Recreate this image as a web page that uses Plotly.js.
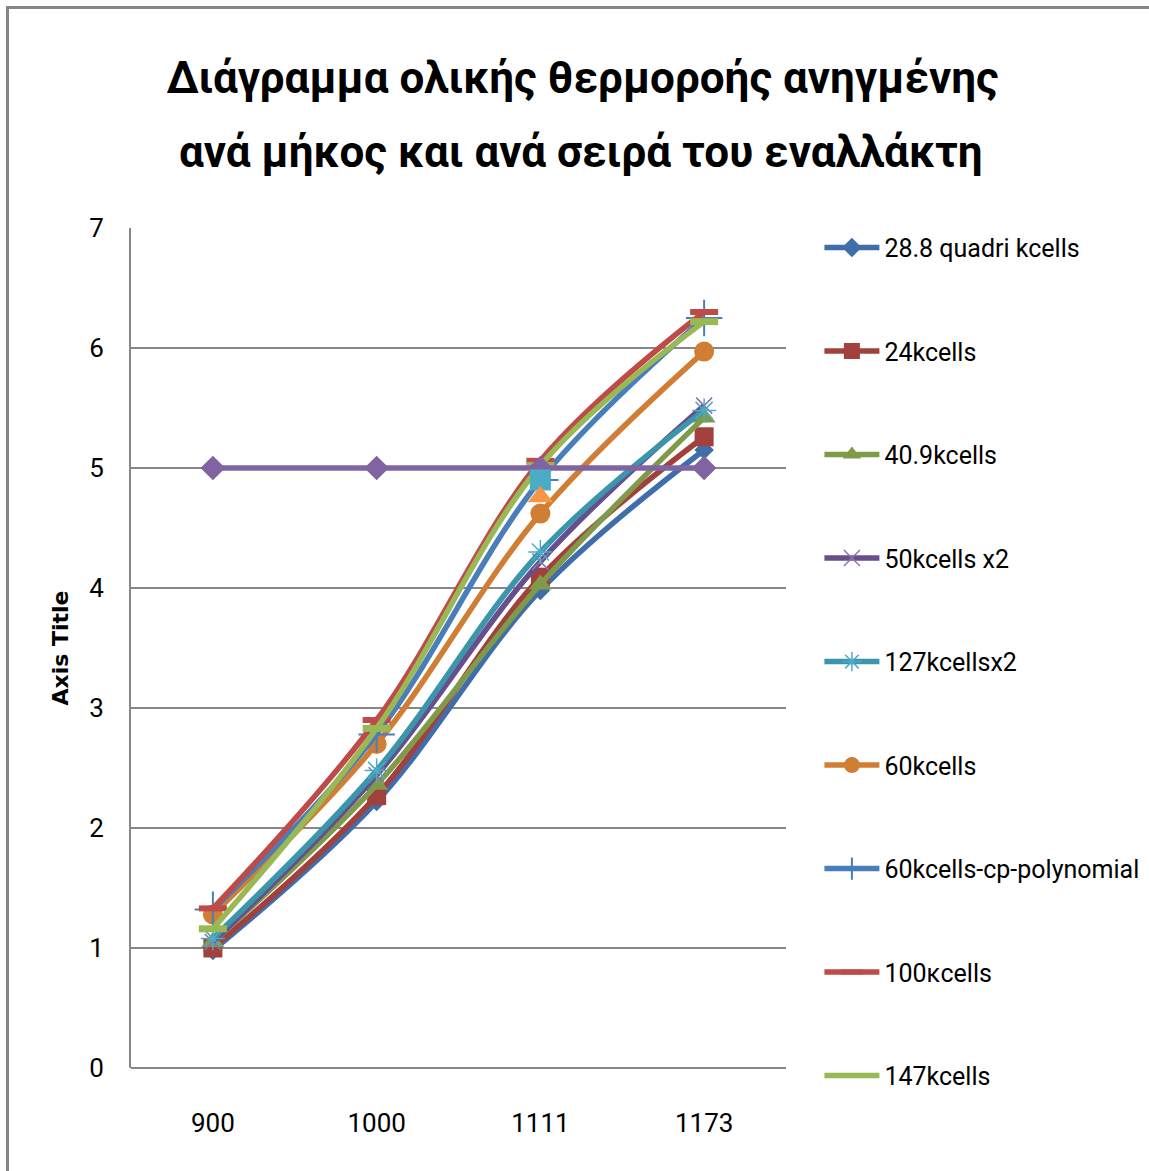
<!DOCTYPE html>
<html>
<head>
<meta charset="utf-8">
<script src="https://cdn.plot.ly/plotly-3.0.1.min.js"></script>
<style>
  html, body { margin: 0; padding: 0; background: #ffffff; }
  #wrap { position: relative; width: 1149px; height: 1171px; overflow: hidden; }
  #chart { position: absolute; left: 0; top: 0; width: 1149px; height: 1171px; }
  #frame { position: absolute; left: 6px; top: 6px; width: 1200px; height: 1200px;
           border-left: 3px solid #878787; border-top: 3px solid #878787; pointer-events: none; }
</style>
</head>
<body>
<div id="wrap">
  <div id="chart"></div>
  <div id="frame"></div>
</div>
<script>
// Exchanger rows / lengths on the category axis
const categories = ['900', '1000', '1111', '1173'];

// Total heat flux per length, one array per mesh
const quadri28_8 = [0.98, 2.22, 3.98, 5.15];
const k24        = [1.00, 2.27, 4.09, 5.26];
const k40_9      = [1.05, 2.36, 4.03, 5.42];
const k50x2      = [1.05, 2.44, 4.22, 5.52];
const k127x2     = [1.08, 2.48, 4.30, 5.48];
const k60        = [1.28, 2.70, 4.62, 5.97];
const k60cpPoly  = [1.32, 2.78, 4.90, 6.25];
const k100       = [1.33, 2.90, 5.06, 6.30];
const k147       = [1.16, 2.83, 5.02, 6.22];
const reference5 = [5, 5, 5, 5];
const extraSquare   = [null, null, 4.90, null];
const extraTriangle = [null, null, 4.76, null];

const seriesNames = ['28.8 quadri kcells', '24kcells', '40.9kcells', '50kcells x2',
                     '127kcellsx2', '60kcells', '60kcells-cp-polynomial', '100κcells', '147kcells'];

const titleLines = ['Διάγραμμα ολικής θερμοροής ανηγμένης', 'ανά μήκος και ανά σειρά του εναλλάκτη'];

const LW = 5.5;
const FONT = 'Roboto, "Noto Sans", sans-serif';

function series(name, y, color, marker, showLegend, group) {
  return {
    type: 'scatter',
    mode: 'lines+markers',
    name: name,
    x: categories,
    y: y,
    legendgroup: group,
    showlegend: showLegend,
    line: { color: color, width: LW, shape: 'spline', smoothing: 1 },
    marker: marker,
    connectgaps: false,
    hoverinfo: 'x+y+name'
  };
}

const traces = [
  series(seriesNames[0], quadri28_8, '#3F6EAB',
    { symbol: 'diamond', size: 15, color: '#3F6EAB', line: { width: 0 } }, true, 'g1'),
  series(seriesNames[1], k24, '#A1403D',
    { symbol: 'square', size: 19, color: '#A1403D', line: { width: 0 } }, true, 'g2'),
  series(seriesNames[2], k40_9, '#7F9A48',
    { symbol: 'triangle-up', size: 20, color: '#7F9A48', line: { width: 0 } }, true, 'g3'),
  series(seriesNames[3], k50x2, '#664F8C',
    { symbol: 'x-thin-open', size: 16, color: '#8A73AE', line: { width: 1.5, color: '#8A73AE' } }, true, 'g4'),
  series(seriesNames[4], k127x2, '#3B95AB',
    { symbol: 'asterisk-open', size: 20, color: '#4BACC6', line: { width: 1.5, color: '#4BACC6' } }, true, 'g5'),
  series(seriesNames[5], k60, '#D07E33',
    { symbol: 'circle', size: 20, color: '#D07E33', line: { width: 0 } }, true, 'g6'),
  series(seriesNames[6], k60cpPoly, '#4A7EBB',
    { symbol: 'cross-thin-open', size: 26, color: '#4A7EBB', line: { width: 2, color: '#4A7EBB' } }, true, 'g7'),
  series(seriesNames[7], k100, '#BE4B48',
    { symbol: 'line-ew-open', size: 20, color: '#BE4B48', line: { width: 6, color: '#BE4B48' } }, true, 'g8'),
  series(seriesNames[8], k147, '#98B954',
    { symbol: 'line-ew-open', size: 20, color: '#98B954', line: { width: 7, color: '#98B954' } }, true, 'g9'),
  series('5', reference5, '#8064A2',
    { symbol: 'diamond', size: 19, color: '#8064A2', line: { width: 0 } }, false, 'g10'),
  series('4.9', extraSquare, '#4BACC6',
    { symbol: 'square', size: 21, color: '#4BACC6', line: { width: 0 } }, false, 'g11'),
  series('4.76', extraTriangle, '#F79646',
    { symbol: 'triangle-up', size: 22, color: '#F79646', line: { width: 0 } }, false, 'g12')
];

const tickFont = { family: FONT, size: 26, color: '#000000' };
const titleFont = { family: FONT, size: 44, color: '#000000', weight: 'bold' };

const layout = {
  width: 1149,
  height: 1171,
  paper_bgcolor: '#ffffff',
  plot_bgcolor: '#ffffff',
  margin: { l: 131, r: 363, t: 228, b: 103, pad: 0, autoexpand: false },
  title: {
    text: titleLines[0],
    font: titleFont,
    xref: 'container', yref: 'container',
    x: 0.507, xanchor: 'center',
    y: 0.9334, yanchor: 'middle'
  },
  annotations: [{
    text: titleLines[1],
    font: titleFont,
    xref: 'paper', yref: 'paper',
    x: (581 - 131) / 655, xanchor: 'center',
    y: (1068 - 152) / 840, yanchor: 'middle',
    showarrow: false
  }],
  xaxis: {
    type: 'category',
    range: [-0.5, 3.5],
    showgrid: false,
    zeroline: false,
    showline: false,
    ticks: '',
    tickfont: tickFont,
    ticklabelstandoff: 37,
    fixedrange: true
  },
  yaxis: {
    range: [0, 7],
    dtick: 1,
    tick0: 0,
    showgrid: true,
    gridcolor: '#878787',
    gridwidth: 1.2,
    zeroline: true,
    zerolinecolor: '#878787',
    zerolinewidth: 1.2,
    showline: true,
    linecolor: '#878787',
    linewidth: 2,
    ticks: '',
    tickfont: tickFont,
    ticklabelstandoff: 20,
    title: {
      text: 'Axis Title',
      font: { family: '"DejaVu Sans", sans-serif', size: 22, color: '#000000', weight: 'bold' },
      standoff: 14
    },
    fixedrange: true
  },
  legend: {
    x: 1.051, xanchor: 'left',
    yref: 'container',
    y: 0.808, yanchor: 'top',
    maxheight: 1100,
    font: { family: FONT, size: 25, color: '#000000' },
    traceorder: 'grouped',
    tracegroupgap: 68,
    itemwidth: 55,
    bgcolor: 'rgba(0,0,0,0)',
    borderwidth: 0
  },
  showlegend: true,
  hovermode: 'closest'
};

Plotly.newPlot('chart', traces, layout, { displayModeBar: false, staticPlot: true });
</script>
</body>
</html>
